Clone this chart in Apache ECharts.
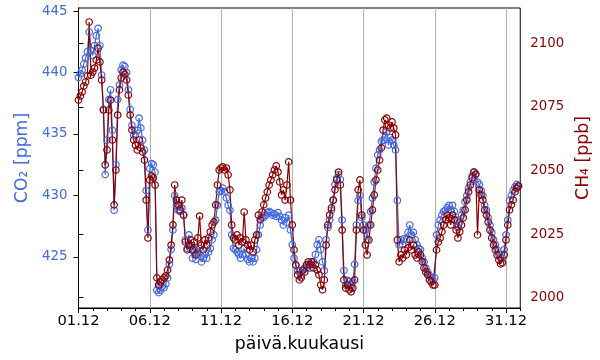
<!DOCTYPE html>
<html><head><meta charset="utf-8">
<script src="https://cdn.jsdelivr.net/npm/echarts@6/dist/echarts.min.js"></script>
<style>html,body{margin:0;padding:0;background:#fff}#c{width:600px;height:360px}</style>
</head><body><div id="c"></div><script>
// time of each sample, in days after 01.12 00:00, 3-hour steps
const stepDays = 0.125;
const co2 = [
439.6,439.9,440.2,440.7,441.2,441.7,443.3,441.8,
441.4,442.2,443.0,443.6,442.2,439.8,437.0,431.7,
434.5,437.8,438.6,435.3,428.8,432.5,437.8,439.0,
440.2,440.6,440.5,440.0,438.6,437.0,435.7,434.9,
434.9,435.3,436.3,435.5,434.5,433.7,430.4,427.2,
432.2,432.6,432.5,431.9,422.3,422.1,422.3,422.6,
422.5,422.8,423.3,424.4,425.6,427.2,430.0,429.2,
428.8,428.7,429.0,428.4,426.4,425.7,426.8,425.6,
424.9,425.6,424.8,425.4,425.7,424.6,424.9,425.2,
424.9,425.4,425.7,426.4,426.8,428.0,429.2,430.3,
430.4,430.6,430.3,429.8,429.2,428.8,426.8,425.7,
425.6,425.4,425.2,424.9,425.2,425.7,425.2,424.8,
424.6,424.9,424.6,424.9,425.6,426.8,427.6,428.2,
428.2,428.4,428.6,428.7,428.6,428.4,428.5,428.3,
428.6,428.3,428.0,427.6,428.2,427.8,428.4,427.2,
426.0,424.9,424.3,423.9,423.8,423.5,423.9,424.1,
424.1,424.4,424.1,424.4,424.6,425.2,426.0,426.4,
425.6,424.6,423.9,426.4,427.4,428.0,428.8,429.6,
430.9,431.4,431.7,431.3,428.0,423.9,422.7,423.1,
423.0,422.5,423.0,424.4,427.6,429.6,430.0,428.2,
427.6,427.2,426.4,427.6,428.7,429.8,431.1,432.2,
433.3,433.7,434.4,434.5,434.7,435.2,434.1,434.7,
434.5,434.1,433.7,429.6,426.0,426.4,426.0,426.5,
426.4,427.0,427.6,426.8,427.0,426.4,426.0,425.7,
425.6,424.9,424.6,424.1,423.8,423.5,423.3,423.1,
423.3,426.8,427.6,428.0,428.4,428.7,428.8,429.0,
429.2,428.8,429.2,428.7,428.0,427.4,427.8,428.4,
428.8,429.5,430.0,430.6,431.1,431.6,431.9,431.7,
431.1,430.9,430.4,430.0,429.2,428.8,428.2,427.6,
427.0,426.4,426.0,425.6,425.2,424.9,424.9,425.6,
426.8,428.0,429.6,430.0,430.4,430.7,430.9,430.8
];
const ch4 = [
2077.7,2079.3,2080.9,2083.2,2084.8,2087.2,2108.4,2087.5,
2088.7,2090.3,2093.4,2098.1,2092.7,2085.6,2073.8,2052.2,
2058.1,2073.8,2077.7,2062.0,2036.5,2050.2,2071.8,2081.7,
2086.4,2088.7,2087.9,2085.6,2079.7,2071.8,2065.9,2062.0,
2060.0,2058.1,2062.0,2058.9,2057.3,2054.1,2038.4,2023.5,
2046.3,2047.9,2047.1,2044.3,2007.8,2005.0,2006.2,2007.0,
2007.8,2008.6,2010.9,2014.8,2020.7,2028.6,2044.3,2038.4,
2036.5,2034.5,2038.4,2032.5,2021.9,2018.8,2020.7,2022.7,
2018.8,2021.9,2016.8,2023.5,2032.1,2020.7,2018.8,2022.7,
2020.7,2023.5,2025.9,2028.6,2029.8,2036.5,2044.3,2050.2,
2051.0,2051.4,2050.2,2051.0,2048.3,2042.4,2028.6,2023.5,
2022.7,2024.7,2020.7,2023.5,2021.9,2033.7,2022.7,2020.7,
2018.8,2020.7,2018.0,2022.7,2024.7,2032.5,2030.6,2033.7,
2036.5,2039.2,2041.6,2044.3,2046.3,2048.3,2050.2,2051.8,
2049.4,2045.5,2040.4,2042.4,2038.4,2044.3,2053.4,2038.4,
2028.6,2018.8,2012.9,2009.0,2007.0,2007.8,2010.9,2010.1,
2012.9,2014.1,2012.9,2014.1,2011.7,2012.9,2010.9,2009.0,
2005.0,2003.1,2007.0,2020.7,2028.6,2032.5,2035.3,2038.4,
2042.4,2046.3,2049.4,2044.3,2026.6,2007.0,2003.8,2005.0,
2003.1,2002.3,2003.8,2007.0,2026.6,2042.4,2046.3,2032.5,
2026.6,2020.7,2016.8,2022.7,2028.6,2034.5,2040.4,2046.3,
2050.2,2054.1,2058.9,2065.9,2069.9,2070.6,2067.9,2066.7,
2069.1,2066.7,2064.0,2022.7,2014.1,2016.8,2015.6,2018.8,
2016.8,2019.6,2022.7,2018.8,2020.7,2016.8,2015.6,2018.0,
2016.8,2014.1,2011.7,2010.1,2009.0,2007.0,2006.2,2005.0,
2005.0,2018.8,2021.9,2023.5,2025.9,2028.6,2030.6,2032.5,
2031.4,2028.6,2032.5,2030.6,2026.6,2023.5,2025.9,2028.6,
2031.4,2034.5,2038.4,2041.6,2044.3,2047.1,2049.4,2048.6,
2024.7,2042.4,2040.4,2038.4,2034.5,2032.5,2029.8,2026.6,
2023.5,2020.7,2018.8,2016.8,2014.8,2013.3,2013.7,2016.8,
2022.7,2028.6,2034.5,2036.5,2038.4,2041.6,2043.1,2043.9
];
const xTicks = [0,5,10,15,20,25,30];
const xTickLabels = ['01.12','06.12','11.12','16.12','21.12','26.12','31.12'];
const dayTicks = [0,1,2,3,4,5,6,7,8,9,10,11,12,13,14,15,16,17,18,19,20,21,22,23,24,25,26,27,28,29,30,31];
const co2Ticks = [425,430,435,440,445];
const ch4Ticks = [2000,2025,2050,2075,2100];

const BLUE = '#4169E1', RED = '#8B0000', FONT = 'DejaVu Sans';
const co2Data = co2.map((v,i)=>[i*stepDays, v]);
const ch4Data = ch4.map((v,i)=>[i*stepDays, v]);

const chart = echarts.init(document.getElementById('c'), null, {renderer:'canvas'});
chart.setOption({
  animation:false,
  backgroundColor:'#fff',
  grid:{left:78.5, right:77.5, top:8, bottom:52, show:true, borderColor:'#000', borderWidth:1, backgroundColor:'transparent'},
  xAxis:[{
    type:'value', min:0, max:31, position:'bottom',
    name:'päivä.kuukausi', nameLocation:'middle', nameGap:28,
    nameTextStyle:{fontFamily:FONT, fontSize:17.3, color:'#000'},
    axisLine:{show:true, lineStyle:{color:'#000', width:1}},
    axisTick:{show:true, inside:false, length:5, lineStyle:{color:'#000'}, customValues:xTicks},
    axisLabel:{fontFamily:FONT, fontSize:14.7, color:'#000', margin:6, customValues:xTicks,
      formatter:v=>{const k=xTicks.indexOf(Math.round(v)); return k>=0?xTickLabels[k]:'';}},
    splitLine:{show:true, lineStyle:{color:'#b0b0b0', width:1}}
  },{
    type:'value', min:0, max:31, position:'bottom',
    axisLine:{show:false},
    axisTick:{show:true, inside:false, length:3, lineStyle:{color:'#000'}, customValues:dayTicks},
    axisLabel:{show:false},
    splitLine:{show:false}
  }],
  yAxis:[{
    type:'value', min:420.85, max:445.25, position:'left',
    name:'CO₂ [ppm]', nameLocation:'middle', nameRotate:90, nameGap:46,
    nameTextStyle:{fontFamily:FONT, fontSize:17.3, color:BLUE},
    axisLine:{show:true, lineStyle:{color:'#000', width:1}},
    axisTick:{show:true, inside:false, length:5, lineStyle:{color:'#000'}, customValues:co2Ticks},
    axisLabel:{fontFamily:FONT, fontSize:13.3, color:BLUE, margin:11, customValues:co2Ticks, formatter:v=>String(v)},
    splitLine:{show:false}
  },{
    type:'value', min:1995.95, max:2113.9, position:'right',
    name:'CH₄ [ppb]', nameLocation:'middle', nameRotate:90, nameGap:52,
    nameTextStyle:{fontFamily:FONT, fontSize:17.3, color:RED},
    axisLine:{show:true, lineStyle:{color:'#000', width:1}},
    axisTick:{show:true, inside:false, length:5, lineStyle:{color:'#000'}, customValues:ch4Ticks},
    axisLabel:{fontFamily:FONT, fontSize:13.3, color:RED, margin:10, customValues:ch4Ticks, formatter:v=>String(v)},
    splitLine:{show:false}
  }],
  series:[{
    type:'line', name:'CO2', xAxisIndex:0, yAxisIndex:0, data:co2Data,
    symbol:'circle', symbolSize:6.5, showAllSymbol:true,
    lineStyle:{color:BLUE, width:1.2},
    itemStyle:{color:'rgba(0,0,0,0)', borderColor:BLUE, borderWidth:1.2}
  },{
    type:'line', name:'CH4', xAxisIndex:0, yAxisIndex:1, data:ch4Data,
    symbol:'circle', symbolSize:6.5, showAllSymbol:true,
    lineStyle:{color:RED, width:1.2},
    itemStyle:{color:'rgba(0,0,0,0)', borderColor:RED, borderWidth:1.2}
  }]
});
</script></body></html>
